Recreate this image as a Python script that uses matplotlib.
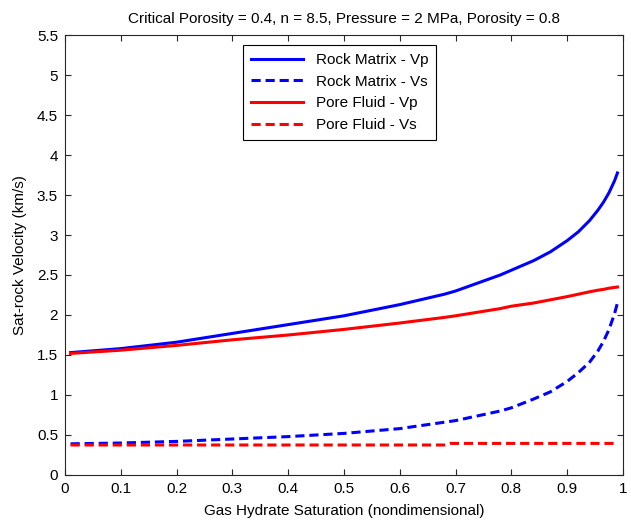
import matplotlib
matplotlib.use("Agg")
import matplotlib.pyplot as plt

plt.rcParams['font.family'] = ['Liberation Sans', 'DejaVu Sans']

saturation = [0.01, 0.1, 0.2, 0.3, 0.4, 0.5, 0.6, 0.68, 0.69, 0.7, 0.78, 0.8,
              0.84, 0.87, 0.9, 0.92, 0.94, 0.955, 0.965, 0.975, 0.985, 0.99]
rock_vp = [1.53, 1.58, 1.66, 1.77, 1.88, 1.99, 2.13, 2.26, 2.28, 2.30, 2.50, 2.56,
           2.68, 2.79, 2.93, 3.04, 3.18, 3.31, 3.41, 3.53, 3.68, 3.775]
rock_vs = [0.39, 0.40, 0.42, 0.45, 0.48, 0.52, 0.58, 0.66, 0.67, 0.68, 0.80, 0.84,
           0.95, 1.04, 1.17, 1.28, 1.41, 1.55, 1.67, 1.82, 2.02, 2.15]
fluid_vp = [1.52, 1.56, 1.62, 1.69, 1.75, 1.82, 1.90, 1.97, 1.98, 1.99, 2.08, 2.11,
            2.15, 2.19, 2.23, 2.26, 2.29, 2.31, 2.32, 2.335, 2.345, 2.35]
fluid_vs = [0.375, 0.375, 0.375, 0.375, 0.375, 0.375, 0.375, 0.375, 0.395, 0.395, 0.395, 0.395,
            0.395, 0.395, 0.395, 0.395, 0.395, 0.395, 0.395, 0.395, 0.395, 0.395]

labels = ['Rock Matrix - Vp', 'Rock Matrix - Vs', 'Pore Fluid - Vp', 'Pore Fluid - Vs']
xticks = [0, 0.1, 0.2, 0.3, 0.4, 0.5, 0.6, 0.7, 0.8, 0.9, 1]
xticklabels = ['0', '0.1', '0.2', '0.3', '0.4', '0.5', '0.6', '0.7', '0.8', '0.9', '1']
yticks = [0, 0.5, 1, 1.5, 2, 2.5, 3, 3.5, 4, 4.5, 5, 5.5]
yticklabels = ['0', '0.5', '1', '1.5', '2', '2.5', '3', '3.5', '4', '4.5', '5', '5.5']

W, H = 631, 529
fig = plt.figure(figsize=(W / 100, H / 100), dpi=100)
l, r, t, b = 65, 623, 35, 475
ax = fig.add_axes([l / W, (H - b) / H, (r - l) / W, (b - t) / H])

lw = 2.2
dash = (3.0, 1.6)
ax.plot(saturation, rock_vp, color='#0000ff', lw=lw, label=labels[0])
ax.plot(saturation, rock_vs, color='#0000ff', lw=lw, dashes=dash, label=labels[1])
ax.plot(saturation, fluid_vp, color='#ff0000', lw=lw, label=labels[2])
ax.plot(saturation, fluid_vs, color='#ff0000', lw=lw, dashes=dash, label=labels[3])

ax.set_xlim(0, 1)
ax.set_ylim(0, 5.5)
ax.set_xticks(xticks)
ax.set_xticklabels(xticklabels)
ax.set_yticks(yticks)
ax.set_yticklabels(yticklabels)
ax.tick_params(direction='in', top=True, right=True, length=4, width=0.8,
               labelsize=11, colors='#262626', labelcolor='black', pad=5)
for s in ax.spines.values():
    s.set_linewidth(0.8)
    s.set_color('#262626')

ax.set_xlabel('Gas Hydrate Saturation (nondimensional)', fontsize=11, labelpad=6)
ax.set_ylabel('Sat-rock Velocity (km/s)', fontsize=11, labelpad=7)
ax.set_title('Critical Porosity = 0.4, n = 8.5, Pressure = 2 MPa, Porosity = 0.8',
             fontsize=11, pad=9)

leg = ax.legend(loc='upper left', bbox_to_anchor=(0.319, 0.978), borderaxespad=0,
                fontsize=11, handlelength=3.4, handletextpad=0.8, labelspacing=0.5,
                borderpad=0.55, fancybox=False, framealpha=1, edgecolor='black')
leg.get_frame().set_linewidth(0.8)

fig.savefig('out.png', dpi=100)
